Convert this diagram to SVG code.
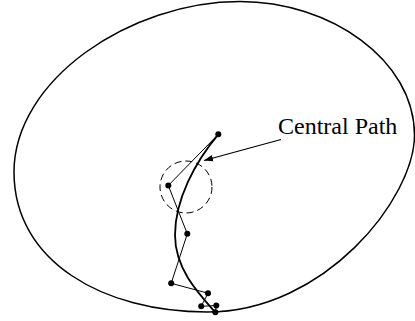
<svg xmlns="http://www.w3.org/2000/svg" width="415" height="321" viewBox="0 0 415 321">
<style>
.outer{fill:none;stroke:#000;stroke-width:1.5}
.cpath{fill:none;stroke:#000;stroke-width:1.8}
.iter{fill:none;stroke:#000;stroke-width:1}
.dot{fill:#000}
.ball{fill:none;stroke:#000;stroke-width:1;stroke-dasharray:7 4}
.lbl{font-family:"Liberation Serif","Times New Roman",serif;font-size:24px;fill:#000}
</style>
<defs>
<marker id="ah" markerWidth="10" markerHeight="8" refX="9" refY="4" orient="auto" markerUnits="userSpaceOnUse">
<path d="M0,0.8 L9,4 L0,7.2 Z" fill="#000"/>
</marker>
</defs>
<g id="region">
<path class="outer" d="M14,172 C14,80 130,1.5 240,1.5 C330,1.5 414.5,60 414.5,135 C414.5,198 325,312 207,312 C104,312 14,262 14,172 Z"/>
</g>
<g id="ball">
<circle class="ball" cx="186" cy="187" r="26"/>
</g>
<g id="central-path">
<path class="cpath" d="M218.3,134.3 C195,162 175,200 175,235 C175,268 197,292 215.3,312.3"/>
</g>
<g id="iterates">
<polyline class="iter" points="218.3,134.3 168.3,185.5 187.3,233.8 171.2,283.3 208,293.2 201.2,306.3 216.3,305.5 215.3,312.3"/>
<circle class="dot" cx="218.3" cy="134.3" r="3"/>
<circle class="dot" cx="168.3" cy="185.5" r="3"/>
<circle class="dot" cx="187.3" cy="233.8" r="3"/>
<circle class="dot" cx="171.2" cy="283.3" r="3"/>
<circle class="dot" cx="208" cy="293.2" r="3"/>
<circle class="dot" cx="201.2" cy="306.3" r="3"/>
<circle class="dot" cx="216.3" cy="305.5" r="3"/>
<circle class="dot" cx="215.3" cy="312.3" r="3"/>
</g>
<g id="label">
<text class="lbl" x="278" y="134">Central Path</text>
</g>
<g id="connectors">
<line x1="281" y1="139.5" x2="204" y2="160.5" stroke="#000" stroke-width="1.2" marker-end="url(#ah)"/>
</g>
</svg>
